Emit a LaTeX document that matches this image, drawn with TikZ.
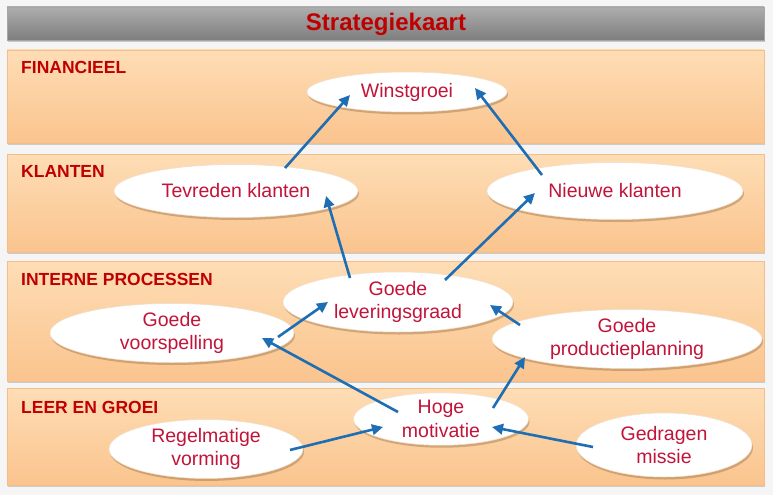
\documentclass[tikz,border=0pt]{standalone}
\usepackage{fontspec}
\setmainfont{Liberation Sans}
\usetikzlibrary{shadows,arrows.meta,calc,shapes.geometric}
\definecolor{pagebg}{HTML}{F5F5F5}
\definecolor{bandtop}{HTML}{FEDDB5}
\definecolor{bandbot}{HTML}{FAC48E}
\definecolor{bandedge}{HTML}{F3BE8C}
\definecolor{titletop}{HTML}{ADADAD}
\definecolor{titlebot}{HTML}{7E7E7E}
\definecolor{txtred}{HTML}{C2143A}
\definecolor{lblred}{HTML}{BF0000}
\definecolor{arrblue}{HTML}{1F6DB2}
\begin{document}
\begin{tikzpicture}[x=1pt,y=-1pt,
  band/.style={top color=bandtop,bottom color=bandbot,draw=bandedge,line width=0.6pt,
    drop shadow={opacity=0.35,shadow xshift=1.2pt,shadow yshift=-2pt,fill=gray}},
  titlebar/.style={top color=titletop,bottom color=titlebot,draw=gray!70,line width=0.4pt,
    drop shadow={opacity=0.4,shadow xshift=1pt,shadow yshift=-2.5pt,fill=gray}},
  lbl/.style={anchor=base west,inner sep=0pt,text=lblred,font=\fontsize{17.5}{20}\selectfont\bfseries},
  oval/.style={ellipse,inner sep=0pt,fill=white,draw=white!75!brown,line width=0.5pt,
    text=txtred,align=center,font=\fontsize{19.5}{23.5}\selectfont,
    drop shadow={opacity=0.35,shadow xshift=1pt,shadow yshift=-2.5pt,fill=brown!70!black}},
  link/.style={draw=arrblue,line width=2.6pt,-{Triangle[length=11pt,width=10.5pt]}}
]
\useasboundingbox (0,0) rectangle (773,495);
\fill[pagebg] (0,0) rectangle (773,495);

% title
\path[titlebar] (7,7) rectangle (764,40);
\node[text=lblred,font=\fontsize{24}{28}\selectfont\bfseries,inner sep=0pt] (title) at (386,24) {Strategiekaart};

% bands
\path[band] (7,50) rectangle (764,143);
\path[band] (7,154) rectangle (764,252);
\path[band] (7,261) rectangle (764,381);
\path[band] (7,388) rectangle (764,485);

\node[lbl] (lf) at (21,74) {FINANCIEEL};
\node[lbl] (lk) at (21,177) {KLANTEN};
\node[lbl] (li) at (21,285) {INTERNE PROCESSEN};
\node[lbl] (ll) at (21,413) {LEER EN GROEI};

% ellipses
\node[oval,minimum width=200pt,minimum height=40pt] (win) at (407,92) {Winstgroei};
\node[oval,minimum width=244pt,minimum height=53pt] (tev) at (236,191) {Tevreden klanten};
\node[oval,minimum width=256pt,minimum height=57pt] (nie) at (615,191) {Nieuwe klanten};
\node[oval,minimum width=230pt,minimum height=60pt] (lev) at (398,302) {Goede\\leveringsgraad};
\node[oval,minimum width=244pt,minimum height=59pt] (voo) at (172,333) {Goede\\voorspelling};
\node[oval,minimum width=270pt,minimum height=58pt] (pro) at (627,339) {Goede\\productieplanning};
\node[oval,minimum width=175pt,minimum height=48pt] (hog) at (441,419) {Hoge\\motivatie};
\node[oval,minimum width=194pt,minimum height=58pt] (reg) at (206,449) {Regelmatige\\vorming};
\node[oval,minimum width=176pt,minimum height=64pt] (ged) at (664,445) {Gedragen\\missie};

% arrows
\draw[link] ($(tev.center)+(49,-23)$) -- ($(win.center)+(-57,3)$);
\draw[link] ($(nie.center)+(-73,-16)$) -- ($(win.center)+(68,-4)$);
\draw[link] ($(lev.center)+(-48,-24)$) -- ($(tev.center)+(90,5)$);
\draw[link] ($(lev.center)+(47,-22)$) -- ($(nie.center)+(-80,2)$);
\draw[link] ($(voo.center)+(106,4)$) -- ($(lev.center)+(-70,0)$);
\draw[link] ($(hog.center)+(-43,-7)$) -- ($(voo.center)+(90,5)$);
\draw[link] ($(pro.center)+(-107,-14)$) -- ($(lev.center)+(92,3)$);
\draw[link] ($(hog.center)+(52,-11)$) -- ($(pro.center)+(-102,18)$);
\draw[link] ($(reg.center)+(84,1)$) -- ($(hog.center)+(-58,8)$);
\draw[link] ($(ged.center)+(-71,2)$) -- ($(hog.center)+(51,8)$);
\end{tikzpicture}
\end{document}
